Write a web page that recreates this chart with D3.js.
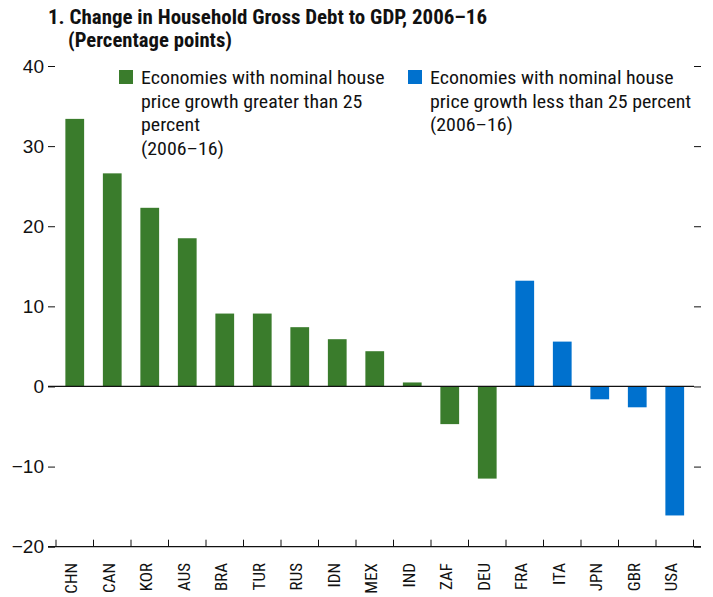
<!DOCTYPE html>
<html><head><meta charset="utf-8">
<script src="https://cdn.jsdelivr.net/npm/d3@7"></script>
<style>
body{margin:0;background:#fff;}
svg{display:block;font-family:"Liberation Sans Narrow","Arial Narrow","Roboto Condensed",sans-serif;}
</style></head>
<body><svg id="c" width="713" height="597"></svg>
<script>
const categories = ["CHN","CAN","KOR","AUS","BRA","TUR","RUS","IDN","MEX","IND","ZAF","DEU","FRA","ITA","JPN","GBR","USA"];
const values = [33.4,26.6,22.3,18.5,9.1,9.1,7.4,5.9,4.4,0.5,-4.7,-11.5,13.2,5.6,-1.6,-2.6,-16.1];
const groups = ["high","high","high","high","high","high","high","high","high","high","high","high","low","low","low","low","low"];
const yTicks = [-20,-10,0,10,20,30,40];
const legendLabels = {
  high: ["Economies with nominal house","price growth greater than 25","percent","(2006–16)"],
  low: ["Economies with nominal house","price growth less than 25 percent","(2006–16)"]
};
const colors = {high:"#3A7C2C", low:"#0071CE"};
const title = "1. Change in Household Gross Debt to GDP, 2006–16";
const subtitle = "(Percentage points)";

const svg = d3.select("#c");
const x = d3.scaleBand().domain(categories).range([56,693.5]).paddingInner(0.5).paddingOuter(0.25);
const y = d3.scaleLinear().domain([-20,40]).range([546.7,66]);

function stretch(sel, k){
  sel.each(function(){ const w=this.getComputedTextLength(); d3.select(this).attr("textLength",w*k).attr("lengthAdjust","spacingAndGlyphs"); });
}

svg.append("text").attr("x",48).attr("y",24).attr("font-size",19.5).attr("font-weight","bold").attr("fill","#111").text(title)
  .attr("textLength",439).attr("lengthAdjust","spacingAndGlyphs");
svg.append("text").attr("x",68).attr("y",47).attr("font-size",19.5).attr("font-weight","bold").attr("fill","#111").text(subtitle)
  .attr("textLength",164).attr("lengthAdjust","spacingAndGlyphs");

// bars
svg.selectAll("rect.bar").data(categories).enter().append("rect")
  .attr("x",d=>x(d)).attr("width",x.bandwidth())
  .attr("y",(d,i)=>y(Math.max(0,values[i])))
  .attr("height",(d,i)=>Math.abs(y(values[i])-y(0)))
  .attr("fill",(d,i)=>colors[groups[i]]);

// left axis
const yl = d3.axisLeft(y).tickValues(yTicks).tickSize(7).tickPadding(4).tickFormat(d=>d<0?"\u2212"+Math.abs(d):d);
const gl = svg.append("g").attr("transform","translate(55,0)").call(yl);
gl.select(".domain").remove();
gl.selectAll("text").attr("font-size",19).attr("fill","#111").attr("font-family","inherit");
gl.selectAll("line").attr("stroke","#111");

// right axis
const yr = d3.axisRight(y).tickValues(yTicks).tickSize(7).tickFormat("");
const gr = svg.append("g").attr("transform","translate(694,0)").call(yr);
gr.select(".domain").remove();
gr.selectAll("line").attr("stroke","#111");

// zero line
svg.append("line").attr("x1",48).attr("x2",694).attr("y1",y(0)).attr("y2",y(0)).attr("stroke","#111").attr("stroke-width",1.3);

// bottom axis
const boundaries = categories.map(c=>x(c)-(x.step()-x.bandwidth())/2).concat([693.5]);
svg.append("line").attr("x1",48).attr("x2",701).attr("y1",y(-20)).attr("y2",y(-20)).attr("stroke","#111").attr("stroke-width",1.3);
svg.selectAll("line.bt").data(boundaries).enter().append("line").attr("class","bt")
  .attr("x1",d=>d).attr("x2",d=>d).attr("y1",y(-20)).attr("y2",y(-20)-7).attr("stroke","#111");

// x labels
svg.selectAll("text.xl").data(categories).enter().append("text").attr("class","xl")
  .attr("transform",d=>`translate(${x(d)+x.bandwidth()/2+2.5},563) rotate(-90)`)
  .attr("text-anchor","end").attr("font-size",17).attr("fill","#111").text(d=>d);

// legend
function legend(key,sx,tx){
  svg.append("rect").attr("x",sx).attr("y",70).attr("width",14).attr("height",14).attr("fill",colors[key]);
  legendLabels[key].forEach((t,i)=>{
    svg.append("text").attr("x",tx).attr("y",84+i*23.7).attr("font-size",19).attr("fill","#111").text(t).call(stretch,1.047);
  });
}
legend("high",119,141);
legend("low",408,430);
</script></body></html>
